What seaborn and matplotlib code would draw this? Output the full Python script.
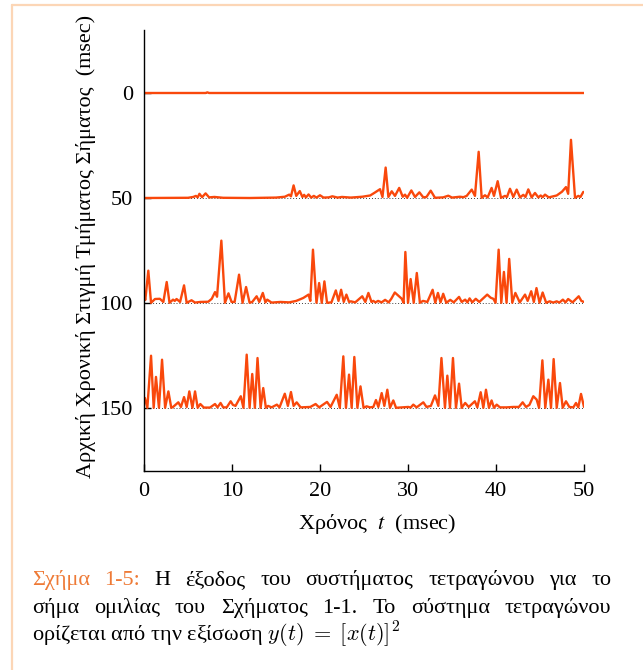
import numpy as np
import pandas as pd
import matplotlib
matplotlib.use("Agg")
import matplotlib.pyplot as plt
import seaborn as sns
from matplotlib.lines import Line2D

# ---------------- data ----------------
offsets = [0, 50, 100, 150]          # start time of each segment (msec)
xtick_vals = [0, 10, 20, 30, 40, 50]
ytick_vals = [0, 50, 100, 150]

# segment starting at 0 msec (silence)
t0 = [0.0, 7.0, 7.2, 7.4, 50.0]
a0 = [0.0, 0.0, 0.3, 0.0, 0.0]

# segment starting at 50 msec
t50 = [0, 5.0, 5.6, 5.9, 6.1, 6.3, 6.6, 7.0, 7.4, 8.0,
       9.0, 12.0, 15.0, 16.0, 16.5, 16.7, 17.0, 17.3, 17.7, 18.0,
       18.2, 18.4, 18.7, 19.0, 19.3, 19.6, 20.0, 20.4, 21.0, 21.4,
       22.0, 22.5, 23.5, 24.8, 25.7, 26.2, 26.82, 27.1, 27.46, 27.77,
       28.15, 28.52, 29.0, 29.4, 29.66, 29.9, 30.38, 30.8, 31.29, 31.74,
       32.1, 32.58, 33.07, 34.0, 34.58, 35.0, 35.9, 36.3, 36.67, 37.24,
       37.61, 38.03, 38.37, 38.75, 39.05, 39.5, 39.77, 40.19, 40.57, 41.02,
       41.25, 41.59, 41.97, 42.35, 42.73, 43.1, 43.35, 43.67, 44.05, 44.43,
       44.81, 45.08, 45.3, 45.57, 46.0, 46.9, 47.5, 47.95, 48.2, 48.52,
       48.98, 49.36, 49.6, 49.92]
a50 = [0.0, 0.1, 0.5, 1.0, 0.3, 2.0, 0.4, 2.2, 0.3, 0.5,
       0.1, 0.0, 0.2, 0.6, 1.6, 0.8, 6.0, 1.0, 3.3, 0.5,
       1.5, 0.3, 1.7, 0.2, 1.0, 0.2, 1.3, 0.2, 0.3, 0.8,
       0.2, 0.5, 0.2, 0.6, 1.2, 2.5, 4.2, 0.5, 14.5, 0.5,
       3.2, 1.0, 4.8, 0.6, 1.6, 0.1, 3.6, 0.5, 2.7, 0.3,
       0.5, 3.5, 0.1, 0.3, 1.1, 0.2, 0.6, 0.4, 1.0, 4.0,
       1.0, 22.0, 0.1, 1.3, 0.3, 4.8, 1.0, 8.0, 0.1, 1.0,
       0.5, 4.4, 0.5, 4.0, 0.3, 1.5, 0.5, 4.1, 0.3, 2.4,
       0.3, 1.2, 0.4, 1.6, 0.3, 1.2, 3.0, 5.2, 2.0, 27.7,
       0.1, 1.0, 0.5, 2.9]

# segment starting at 100 msec
t100 = [0, 0.15, 0.49, 0.8, 1.25, 1.8, 2.2, 2.58, 2.9, 3.3,
        3.5, 3.7, 4.1, 4.55, 4.85, 5.4, 5.8, 6.4, 7.3, 7.7,
        8.07, 8.3, 8.79, 9.2, 9.6, 9.95, 10.3, 10.8, 11.2, 11.6,
        12.0, 12.3, 12.8, 13.1, 13.5, 13.8, 14.0, 14.5, 15.5, 16.5,
        17.3, 18.1, 18.7, 18.9, 19.2, 19.6, 19.9, 20.2, 20.5, 20.8,
        21.3, 21.8, 22.1, 22.4, 22.7, 23.0, 23.3, 23.5, 24.0, 24.8,
        25.15, 25.5, 25.85, 26.06, 26.3, 26.6, 27.0, 27.4, 27.8, 28.1,
        28.5, 28.9, 29.3, 29.5, 29.7, 30.0, 30.3, 30.65, 31.0, 31.35,
        31.7, 32.2, 32.8, 33.1, 33.4, 33.7, 34.0, 34.35, 34.8, 35.2,
        35.8, 36.1, 36.5, 36.75, 37.0, 37.3, 37.7, 38.1, 39.0, 39.4,
        39.7, 39.95, 40.3, 40.6, 40.9, 41.2, 41.5, 41.85, 42.2, 42.7,
        43.3, 43.6, 44.0, 44.3, 44.6, 44.95, 45.3, 45.7, 46.1, 46.5,
        46.9, 47.2, 47.6, 47.9, 48.2, 48.7, 49.4, 49.7, 50.0]
a100 = [3.2, 1.5, 15.4, 0.1, 1.9, 2.0, 0.5, 10.0, 0.1, 1.6,
        1.0, 1.9, 0.5, 8.4, 0.1, 1.3, 0.2, 0.5, 0.6, 2.0,
        5.2, 3.0, 29.7, 0.1, 4.6, 0.5, 0.5, 13.5, 0.1, 7.6,
        0.1, 0.5, 3.2, 0.5, 4.8, 0.3, 1.6, 0.2, 0.5, 0.3,
        1.0, 2.4, 4.0, 1.0, 25.4, 0.1, 9.5, 0.1, 10.3, 0.1,
        0.3, 6.0, 1.0, 6.3, 0.5, 4.0, 0.5, 0.8, 0.3, 3.2,
        0.5, 4.8, 0.5, 1.0, 0.3, 1.0, 0.3, 1.5, 0.3, 2.0,
        5.0, 3.5, 2.0, 0.1, 24.3, 0.1, 11.4, 0.1, 14.3, 0.1,
        1.0, 0.5, 6.3, 0.1, 4.8, 0.3, 4.4, 0.1, 1.5, 0.3,
        2.9, 0.5, 1.6, 0.3, 2.2, 0.3, 2.0, 0.5, 4.0, 2.5,
        2.0, 0.1, 25.4, 0.1, 14.8, 0.1, 21.0, 0.1, 4.8, 0.3,
        4.0, 1.0, 5.6, 0.5, 7.1, 0.1, 5.0, 0.1, 0.8, 0.2,
        0.8, 0.2, 1.6, 0.3, 1.9, 0.3, 3.2, 1.0, 0.5]

# segment starting at 150 msec
t150 = [0, 0.1, 0.38, 0.8, 1.1, 1.36, 1.7, 2.05, 2.4, 2.77,
        3.1, 3.3, 3.9, 4.2, 4.55, 4.85, 5.15, 5.5, 5.8, 6.1,
        6.4, 6.8, 7.5, 8.07, 8.35, 8.7, 9.0, 9.4, 9.85, 10.1,
        10.4, 11.0, 11.3, 11.67, 12.0, 12.3, 12.6, 12.9, 13.25, 13.55,
        13.85, 14.1, 14.5, 15.1, 15.4, 16.0, 16.35, 16.7, 17.0, 17.35,
        17.8, 18.9, 19.5, 19.9, 20.8, 21.2, 21.9, 22.25, 22.65, 22.95,
        23.3, 23.6, 23.9, 24.25, 24.6, 24.95, 25.3, 25.68, 26.06, 26.36,
        26.63, 27.01, 27.31, 27.65, 27.95, 28.33, 28.64, 29.28, 30.04, 30.3,
        30.6, 30.98, 31.74, 32.1, 32.6, 33.07, 33.45, 33.8, 34.2, 34.47,
        34.77, 35.11, 35.45, 35.8, 36.1, 36.5, 36.9, 37.6, 37.88, 38.26,
        38.56, 38.86, 39.2, 39.5, 39.77, 40.08, 40.45, 41.2, 41.97, 42.6,
        43.03, 43.41, 43.8, 44.24, 44.62, 44.89, 45.27, 45.6, 45.95, 46.25,
        46.55, 46.9, 47.27, 47.58, 47.95, 48.33, 48.79, 49.09, 49.35, 49.66,
        50.0]
a150 = [3.2, 4.8, 0.1, 24.9, 0.1, 14.8, 0.1, 23.0, 0.1, 7.9,
        0.1, 0.5, 2.7, 0.5, 5.2, 0.5, 7.9, 0.1, 7.9, 0.1,
        1.9, 0.2, 0.2, 1.9, 0.3, 2.4, 0.3, 0.3, 3.2, 1.5,
        1.0, 5.6, 0.1, 25.4, 0.1, 16.2, 0.1, 23.8, 0.1, 9.5,
        0.1, 1.0, 0.3, 1.6, 0.3, 6.8, 1.0, 7.6, 1.0, 2.7,
        0.3, 0.5, 1.9, 0.3, 2.9, 0.5, 6.3, 0.1, 24.6, 0.1,
        15.9, 0.1, 24.3, 0.1, 10.3, 0.1, 0.8, 0.3, 0.5, 3.8,
        0.5, 7.1, 1.0, 8.7, 0.1, 3.6, 0.1, 0.3, 0.5, 0.2,
        1.6, 0.3, 2.7, 0.5, 1.0, 6.0, 1.0, 23.8, 0.1, 15.4,
        0.1, 23.8, 0.1, 11.6, 0.1, 2.4, 0.5, 3.2, 0.3, 7.5,
        0.1, 8.7, 0.1, 3.6, 0.1, 1.6, 0.3, 0.3, 0.5, 0.5,
        2.7, 0.5, 1.5, 5.6, 4.0, 0.1, 22.7, 0.1, 13.5, 0.1,
        23.3, 0.1, 11.9, 0.1, 3.2, 0.5, 0.3, 2.4, 0.3, 6.7,
        0.5]

times = [t0, t50, t100, t150]
amps = [a0, a50, a100, a150]

xlabel = "Χρόνος  $t$  (msec)"
ylabel = "Αρχική Χρονική Στιγμή Τμήματος Σήματος  (msec)"
cap_line1_head = ["Σχήμα", "1-5:"]
cap_line1_rest = ["Η", "έξοδος", "του", "συστήματος", "τετραγώνου", "για", "το"]
cap_line2 = ["σήμα", "ομιλίας", "του", "Σχήματος", "1-1.", "Το", "σύστημα", "τετραγώνου"]
cap_line3 = r"ορίζεται από την εξίσωση $y(t)\;=\;[x(t)]^2$"

# ---------------- style ----------------
sns.set_style("ticks")
plt.rcParams['font.family'] = ['Liberation Serif', 'DejaVu Serif']
plt.rcParams['mathtext.fontset'] = 'stix'

W, H = 643, 670
TRACE = "#F9480C"
CAP_ORANGE = "#EE7A36"
FRAME = "#FCD6B6"

fig = plt.figure(figsize=(W / 100, H / 100), dpi=100)
fig.patch.set_facecolor("white")
ax = fig.add_axes([144 / W, 1 - 471 / H, 440 / W, 441 / H])
ax.set_facecolor("white")

for off, t, a in zip(offsets, times, amps):
    assert len(t) == len(a)
    df = pd.DataFrame({"t": t, "y": off - np.asarray(a, dtype=float)})
    ax.axhline(off, color="black", lw=0.6, ls=(0, (1, 2.5)), zorder=1)
    sns.lineplot(data=df, x="t", y="y", ax=ax, color=TRACE, lw=1.7,
                 estimator=None, sort=False, zorder=2)

ax.set_xlim(0, 50)
ax.set_ylim(180, -30)
ax.set_xticks(xtick_vals)
ax.set_yticks(ytick_vals)
ax.set_xticklabels([str(v) for v in xtick_vals])
ax.set_yticklabels([str(v) for v in ytick_vals])
ax.tick_params(direction="in", length=5, width=1, labelsize=16,
               colors="black", pad=8)
sns.despine(ax=ax)
for s in ("left", "bottom"):
    ax.spines[s].set_color("black")
    ax.spines[s].set_linewidth(1.0)

ax.set_xlabel(xlabel, fontsize=16, color="black")
ax.set_ylabel(ylabel, fontsize=16, color="black")
ax.yaxis.set_label_coords(-0.11, 0.51)
ax.xaxis.set_label_coords(0.53, -0.092)

# ---------------- frame ----------------
fig.add_artist(Line2D([11.5 / W, 1.0], [1 - 5 / H, 1 - 5 / H],
                      transform=fig.transFigure, color=FRAME, lw=1.6))
fig.add_artist(Line2D([11.5 / W, 11.5 / W], [0.0, 1 - 5 / H],
                      transform=fig.transFigure, color=FRAME, lw=1.6))

# ---------------- caption ----------------
cap_fs = 16
x_left, x_right = 32, 611
renderer = fig.canvas.get_renderer()


def place_line(words, colors, y_px):
    texts = [fig.text(0, 1 - y_px / H, w, color=c, fontsize=cap_fs,
                      va="baseline", ha="left") for w, c in zip(words, colors)]
    widths = [tx.get_window_extent(renderer).width for tx in texts]
    gap = (x_right - x_left - sum(widths)) / (len(words) - 1)
    x = x_left
    for tx, w in zip(texts, widths):
        tx.set_x(x / W)
        x += w + gap


place_line(cap_line1_head + cap_line1_rest,
           [CAP_ORANGE] * len(cap_line1_head) + ["black"] * len(cap_line1_rest), 585)
place_line(cap_line2, ["black"] * len(cap_line2), 613)
fig.text(x_left / W, 1 - 641 / H, cap_line3, fontsize=cap_fs, color="black",
         va="baseline", ha="left", math_fontfamily="cm")

fig.savefig("out.png", dpi=100, facecolor="white")
